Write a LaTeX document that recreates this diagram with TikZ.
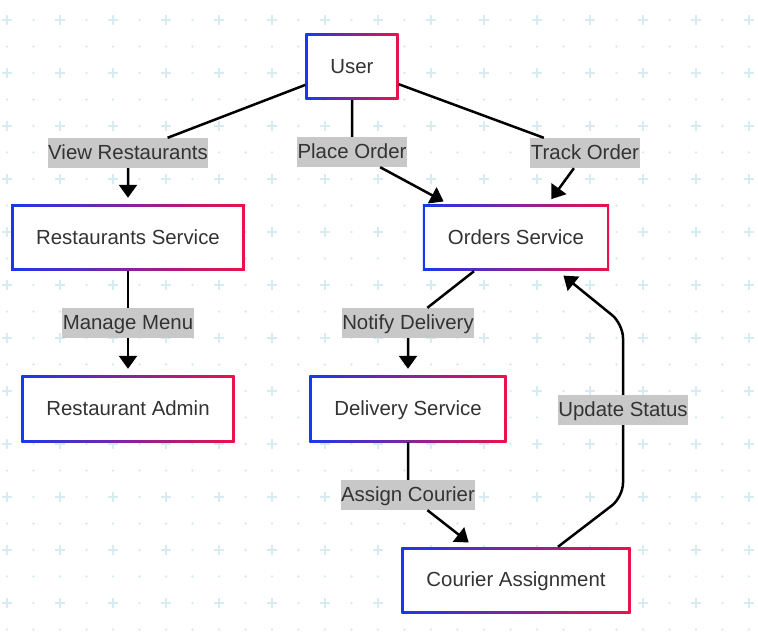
\documentclass[tikz,border=0pt]{standalone}
\usepackage{fontspec}
\setmainfont{Liberation Sans}
\usepackage{tikz}
\usetikzlibrary{arrows.meta}
\definecolor{gblue}{RGB}{25,55,240}
\definecolor{gred}{RGB}{238,16,74}
\definecolor{dotc}{RGB}{214,236,240}
\definecolor{lblgray}{RGB}{200,200,200}
\definecolor{txt}{RGB}{51,51,51}

\begin{document}
\begin{tikzpicture}[x=1pt, y=-1pt, font=\fontsize{20.4}{24}\selectfont, >={Triangle[length=13pt,width=18pt]}]
  \tikzstyle{svc}=[left color=gblue, right color=gred, text=txt, minimum height=66pt, inner xsep=25pt,
                   text height=16pt, text depth=3.5pt,
                   path picture={\fill[white] ([shift={(2.5pt,-2.5pt)}]path picture bounding box.north west)
                                  rectangle ([shift={(-2.5pt,2.5pt)}]path picture bounding box.south east);}]
  \tikzstyle{lbl}=[fill=lblgray, text=txt, inner xsep=0.5pt, inner ysep=0pt, minimum height=30pt,
                   text height=16pt, text depth=3.5pt]
  \tikzstyle{flow}=[->, line width=2.5pt, shorten >=7pt]

  \useasboundingbox (0,0) rectangle (758,636);

  % background dots and crosses
  \foreach \i in {0,...,28}
    \foreach \j in {0,...,23}
      \fill[dotc] (7+26.5*\i, 20+26.5*\j) circle (1.3pt);
  \foreach \i in {0,...,14}
    \foreach \j in {0,...,11}
      \draw[dotc, line width=2pt] (2+53*\i, 20+53*\j) -- ++(10,0)
                                  (7+53*\i, 15+53*\j) -- ++(0,10);

  \node[svc] (User)     at (352,67)  {User};
  \node[svc] (RS)       at (128,238) {Restaurants Service};
  \node[svc] (Orders)   at (516,238) {Orders Service};
  \node[svc] (Admin)    at (128,409) {Restaurant Admin};
  \node[svc] (Delivery) at (408,409) {Delivery Service};
  \node[svc] (Courier)  at (516,580) {Courier Assignment};

  \node[lbl] (vr) at (128,153) {View Restaurants};
  \node[lbl] (po) at (352,152) {Place Order};
  \node[lbl] (to) at (585,153) {Track Order};
  \node[lbl] (mm) at (128,323) {Manage Menu};
  \node[lbl] (nd) at (408,323) {Notify Delivery};
  \node[lbl] (ac) at (408,495) {Assign Courier};

  \draw[flow] (User) -- (vr) -- (RS);
  \draw[flow] (User) -- (po) -- ([xshift=27pt]Orders.north west);
  \draw[flow] (User) -- (to) -- ([xshift=-62pt]Orders.north east);
  \draw[flow] (RS) -- (mm) -- (Admin);
  \draw[flow] ([xshift=-42pt]Orders.south) -- (nd) -- (Delivery);
  \draw[flow] (Delivery) -- (ac) -- ([xshift=73pt]Courier.north west);
  \draw[flow, rounded corners=14pt] ([xshift=42pt]Courier.north) -- (623,497)
        -- (623,324) -- ([xshift=42pt]Orders.south);

  \node[lbl] (us) at (623,410) {Update Status};
\end{tikzpicture}
\end{document}
